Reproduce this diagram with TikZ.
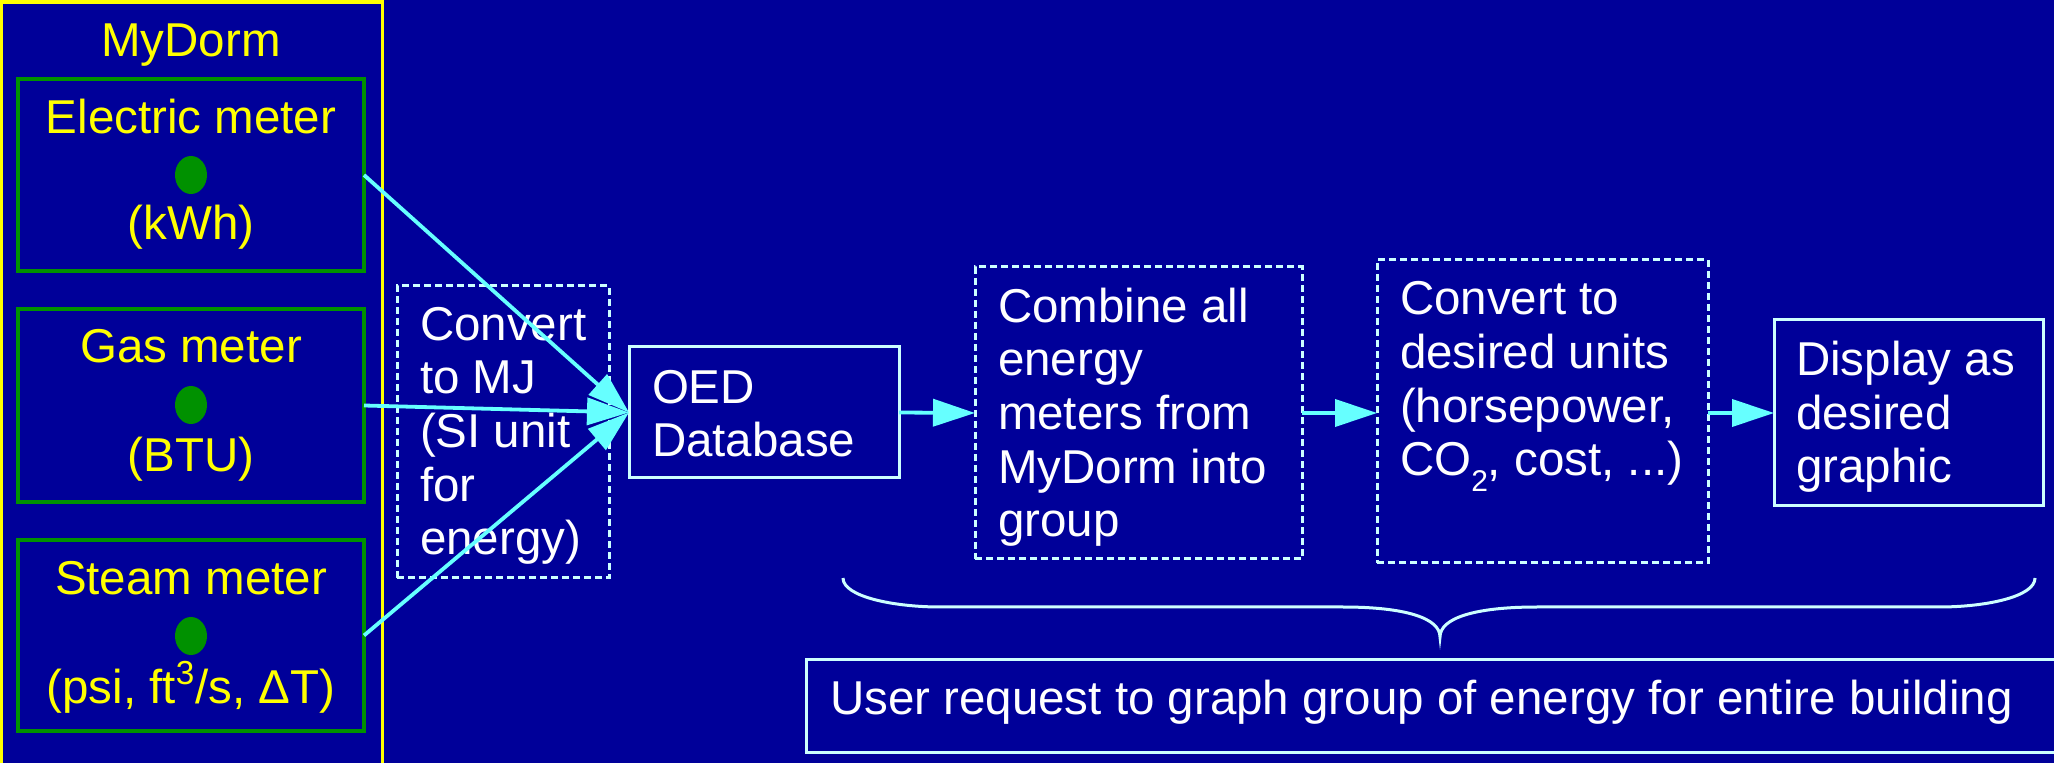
\documentclass[tikz,border=0pt]{standalone}
\usepackage{fontspec}
\setmainfont{Liberation Sans}
\usetikzlibrary{arrows.meta,fit}
\definecolor{bgblue}{RGB}{0,0,153}
\definecolor{dormyellow}{RGB}{255,255,0}
\definecolor{metergreen}{RGB}{0,145,0}
\definecolor{boxcyan}{RGB}{204,255,255}
\definecolor{arrowcyan}{RGB}{102,255,255}
\begin{document}
\begin{tikzpicture}[x=0.5pt,y=-0.5pt,
  every node/.style={font=\fontsize{23.75}{26.85}\selectfont, inner sep=0pt, outer sep=0pt},
  dormbox/.style={draw=dormyellow, line width=1.6pt},
  meterbox/.style={draw=metergreen, line width=1.75pt},
  solidbox/.style={draw=boxcyan, line width=1.5pt},
  dashbox/.style={draw=boxcyan, line width=1.5pt, dash pattern=on 3.5pt off 2pt},
  wtxt/.style={text=white, align=left, anchor=base west},
  ytxt/.style={text=dormyellow, anchor=base},
  flow/.style={draw=arrowcyan, line width=1.9pt, -{Triangle[length=21pt,width=13.5pt]}},
  bracestyle/.style={draw=boxcyan, line width=1.5pt}
]
\fill[bgblue] (0,0) rectangle (2054,763);
\useasboundingbox (0,0) rectangle (2054,763);

% MyDorm container
\node[dormbox, fit={(1.5,2) (382.5,800)}] (dorm) {};
\node[ytxt] (dormlabel) at (191,57) {MyDorm};

% meters
\node[meterbox, fit={(18,79) (364,271)}] (elec) {};
\node[ytxt] (elect) at (191,134) {Electric meter};
\fill[metergreen] (191,175) ellipse [x radius=8pt, y radius=9.5pt];
\node[ytxt] (elecu) at (191,240) {(kWh)};

\node[meterbox, fit={(18,309) (364,502)}] (gas) {};
\node[ytxt] (gast) at (191,363) {Gas meter};
\fill[metergreen] (191,405) ellipse [x radius=8pt, y radius=9.5pt];
\node[ytxt] (gasu) at (191,472) {(BTU)};

\node[meterbox, fit={(18,540) (364,731)}] (steam) {};
\node[ytxt] (steamt) at (191,595) {Steam meter};
\fill[metergreen] (191,636) ellipse [x radius=8pt, y radius=9.5pt];
\node[ytxt] (steamu) at (191,703) {(psi, ft\textsuperscript{3}/s, ΔT)};

% convert to MJ (anchor = baseline of the last line)
\node[dashbox, fit={(397,286) (609,578)}] (mj) {};
\node[wtxt] (mjt) at (420,555) {Convert\\to MJ\\(SI unit\\for\\energy)};

% OED database
\node[solidbox, fit={(629,347) (899,478)}] (oed) {};
\node[wtxt] (oedt) at (652,457) {OED\\Database};

% combine
\node[dashbox, fit={(975,267) (1302,559)}] (comb) {};
\node[wtxt] (combt) at (998,537) {Combine all\\energy\\meters from\\MyDorm into\\group};

% convert to desired units
\node[dashbox, fit={(1377,260) (1708,563)}] (units) {};
\node[wtxt] (unitst) at (1400,476) {Convert to\\desired units\\(horsepower,\\CO\raisebox{-7.8pt}{\fontsize{15}{15}\selectfont 2}, cost, ...)};

% display
\node[solidbox, fit={(1774,320) (2043,506)}] (disp) {};
\node[wtxt] (dispt) at (1796,483) {Display as\\desired\\graphic};

% user request
\node[solidbox, fit={(806,659) (2080,752)}] (user) {};
\node[wtxt] (usert) at (830,714) {User request to graph group of energy for entire building};

% connectors
\draw[flow] (elec.east) -- (oed.west);
\draw[flow] (gas.east) -- (oed.west);
\draw[flow] (steam.east) -- (oed.west);
\draw[flow] (oed.east) -- (comb.west);
\draw[flow] (comb.east) -- (units.west |- comb.east);
\draw[flow] (units.east |- disp.west) -- (disp.west);

% brace
\draw[bracestyle] (843,578) .. controls (843,597) and (895,607) .. (940,607) -- (1343,607)
  .. controls (1405,607) and (1440,618) .. (1440,637)
  .. controls (1440,618) and (1475,607) .. (1537,607) -- (1939,607)
  .. controls (1985,607) and (2035,597) .. (2035,578);
\end{tikzpicture}
\end{document}
